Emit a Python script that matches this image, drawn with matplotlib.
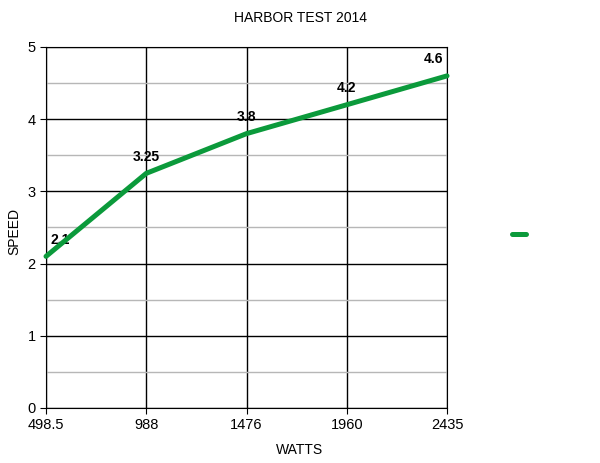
import matplotlib
matplotlib.use('Agg')
import matplotlib.pyplot as plt

plt.rcParams['font.family'] = ['Liberation Sans', 'DejaVu Sans']

watts = ['498.5', '988', '1476', '1960', '2435']
speed = [2.1, 3.25, 3.8, 4.2, 4.6]
pontos = list(range(len(watts)))

fig = plt.figure(figsize=(6, 4.63), dpi=100)
ax = fig.add_axes([0.0767, 0.1188, 0.6683, 0.7797])

verde = '#0b9a3b'
linha, = ax.plot(pontos, speed, color=verde, lw=3.6, solid_capstyle='round',
                 solid_joinstyle='round', clip_on=False, zorder=5)

# rótulos: o primeiro e o último ficam dentro da área do gráfico
for i, (x, y) in enumerate(zip(pontos, speed)):
    ha = 'center'
    dx = 0
    if i == 0:
        ha, dx = 'left', 3
    elif i == len(pontos) - 1:
        ha, dx = 'right', -3
    ax.annotate(f'{y:g}', (x, y), xytext=(dx, 7), textcoords='offset points',
                ha=ha, va='bottom', fontsize=10, fontweight='bold')

ax.set_xlim(0, 4)
ax.set_ylim(0, 5)
ax.set_xticks(pontos)
ax.set_xticklabels(watts)
ax.set_yticks(range(6))
ax.set_yticks([0.5, 1.5, 2.5, 3.5, 4.5], minor=True)
ax.grid(True, which='major', color='black', lw=1)
ax.grid(True, which='minor', axis='y', color='#b7b7b7', lw=1)
ax.tick_params(which='minor', length=0)
ax.tick_params(which='major', length=4, labelsize=10.5, colors='black')
for s in ax.spines.values():
    s.set_color('black')
ax.set_axisbelow(True)

fig.text(0.5, 0.028, 'WATTS', ha='center', va='center', fontsize=10)
fig.text(0.024, 0.5, 'SPEED', ha='center', va='center', rotation=90, fontsize=10)
fig.text(0.5, 0.961, 'HARBOR TEST 2014', ha='center', va='center', fontsize=10)

ax.legend(handles=[linha], labels=[''], loc='center left',
          bbox_to_anchor=(1.13, 0.48), frameon=False, handlelength=1.0)

fig.savefig('out.png', dpi=100)
